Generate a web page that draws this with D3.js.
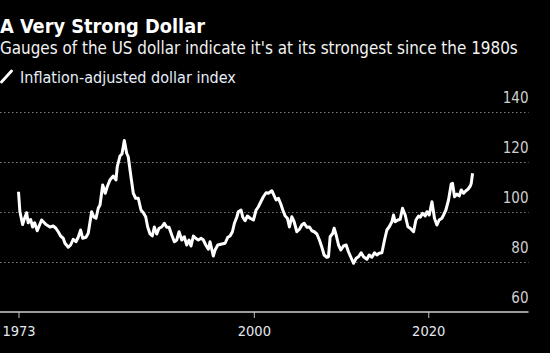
<!DOCTYPE html>
<html>
<head>
<meta charset="utf-8">
<script src="https://cdn.jsdelivr.net/npm/d3@7"></script>
<style>
	html, body {margin: 0; padding: 0; background: #000;}
	svg {display: block;}
</style>
</head>
<body>
<svg id="chart"></svg>
<script>
'use strict';

//Chart texts.
const title = 'A Very Strong Dollar';
const subtitle = "Gauges of the US dollar indicate it's at its strongest since the 1980s";
const legendLabel = 'Inflation-adjusted dollar index';

//Ticks.
const yTicks = [60, 80, 100, 120, 140];
const xTicks = [1973, 2000, 2020];

//Decimal years.
const years = [
	1973.00, 1973.16, 1973.47, 1973.70, 1973.93, 1974.11, 1974.39, 1974.62, 1974.85, 1975.15,
	1975.65, 1976.15, 1976.61, 1976.98, 1977.29, 1977.56, 1977.83, 1978.13, 1978.33, 1978.71,
	1978.98, 1979.28, 1979.59, 1979.85, 1980.13, 1980.36, 1980.74, 1981.00, 1981.39, 1981.66,
	1981.89, 1982.15, 1982.35, 1982.66, 1982.95, 1983.18, 1983.49, 1983.87, 1984.18, 1984.33,
	1984.64, 1984.87, 1985.14, 1985.41, 1985.59, 1985.90, 1986.17, 1986.44, 1986.74, 1987.05,
	1987.32, 1987.59, 1987.82, 1988.09, 1988.35, 1988.58, 1988.86, 1989.12, 1989.43, 1989.73,
	1990.00, 1990.27, 1990.58, 1990.88, 1991.15, 1991.42, 1991.73, 1992.02, 1992.30, 1992.56,
	1992.79, 1993.06, 1993.33, 1993.63, 1993.94, 1994.21, 1994.48, 1994.78, 1994.97, 1995.17,
	1995.35, 1995.55, 1995.86, 1996.32, 1996.70, 1997.01, 1997.27, 1997.54, 1997.77, 1998.04,
	1998.22, 1998.53, 1998.73, 1998.99, 1999.26, 1999.57, 1999.95, 2000.26, 2000.52, 2000.80,
	2001.09, 2001.40, 2001.67, 2002.06, 2002.24, 2002.55, 2002.82, 2003.09, 2003.32, 2003.59,
	2003.85, 2004.08, 2004.35, 2004.62, 2004.93, 2005.23, 2005.50, 2005.77, 2006.08, 2006.38,
	2006.65, 2006.92, 2007.23, 2007.52, 2007.80, 2008.06, 2008.37, 2008.56, 2008.75, 2009.06,
	2009.21, 2009.44, 2009.71, 2009.98, 2010.28, 2010.59, 2010.85, 2011.13, 2011.43, 2011.74,
	2012.00, 2012.31, 2012.58, 2012.97, 2013.23, 2013.54, 2013.84, 2014.11, 2014.38, 2014.69,
	2014.99, 2015.26, 2015.53, 2015.84, 2016.02, 2016.21, 2016.52, 2016.79, 2017.05, 2017.36,
	2017.67, 2017.94, 2018.32, 2018.59, 2018.89, 2019.09, 2019.35, 2019.66, 2019.85, 2020.12,
	2020.43, 2020.72, 2021.00, 2021.26, 2021.57, 2021.76, 2022.03, 2022.33, 2022.64, 2022.79,
	2023.02, 2023.30, 2023.56, 2023.79, 2024.06, 2024.33, 2024.56, 2024.83, 2024.94, 2025.09
];

//Inflation-adjusted dollar index at each of the years above.
const dollarIndex = [
	108.1, 100.1, 95.0, 97.5, 99.7, 95.7, 97.0, 94.0, 95.7, 92.5,
	96.8, 95.0, 94.0, 94.4, 93.5, 92.1, 90.4, 89.5, 87.5, 85.9,
	86.8, 89.1, 88.1, 89.9, 92.8, 89.5, 89.9, 91.5, 100.1, 97.9,
	97.5, 101.5, 102.8, 110.8, 107.5, 110.1, 112.8, 114.4, 112.8, 118.1,
	122.4, 123.2, 128.6, 123.5, 122.1, 114.1, 107.5, 105.5, 105.5, 100.8,
	99.7, 98.1, 94.0, 91.2, 90.4, 94.0, 91.2, 93.5, 94.0, 95.5,
	93.9, 93.9, 90.8, 88.1, 88.8, 92.1, 88.8, 90.1, 86.8, 88.8,
	86.4, 90.4, 89.5, 88.8, 89.5, 88.8, 86.8, 85.1, 88.1, 85.1,
	82.4, 84.8, 86.8, 87.2, 87.5, 89.9, 90.4, 92.1, 95.5, 97.9,
	100.1, 100.8, 97.9, 96.5, 98.4, 97.5, 96.8, 100.8, 102.1, 104.1,
	106.1, 107.7, 107.5, 108.5, 107.2, 104.8, 105.5, 103.2, 100.8, 98.4,
	97.5, 94.0, 98.1, 96.1, 92.1, 93.1, 94.8, 95.5, 93.9, 94.0,
	92.5, 92.1, 91.2, 88.8, 85.9, 82.8, 81.9, 82.1, 90.1, 91.5,
	93.5, 90.8, 86.8, 84.8, 86.4, 86.8, 84.1, 81.9, 79.5, 81.5,
	82.1, 83.7, 82.1, 81.1, 82.8, 81.9, 83.7, 82.8, 83.5, 83.7,
	88.8, 92.8, 94.1, 96.1, 98.8, 96.1, 96.8, 97.1, 101.5, 98.8,
	94.1, 93.5, 92.1, 96.8, 98.4, 97.9, 99.5, 98.4, 100.1, 98.8,
	104.1, 97.5, 94.8, 96.8, 97.5, 98.8, 100.8, 104.8, 111.2, 111.5,
	106.1, 107.2, 106.4, 108.8, 107.5, 108.5, 109.1, 110.4, 111.5, 115.5
];

const width = 550;
const height = 353;
const font = 'DejaVu Sans Condensed, DejaVu Sans, sans-serif';

const svg = d3.select('#chart')
	.attr('width', width)
	.attr('height', height)
	.style('font-family', font);

svg.append('rect')
	.attr('width', width)
	.attr('height', height)
	.attr('fill', '#000');

//Scales.
const xScale = d3.scaleLinear().domain([1973, 2020]).range([18.5, 428.2]);
const yScale = d3.scaleLinear().domain([60, 140]).range([312, 112]);
const plotRight = 528.5;

//Shrink or grow a text so it spans the width seen in the reference.
function fitWidth(sel, target) {
	const node = sel.node();
	const size = parseFloat(sel.attr('font-size'));
	const len = node.getComputedTextLength();
	sel.attr('font-size', (size * target / len).toFixed(2));
}

//Header.
svg.append('text')
	.attr('x', 0)
	.attr('y', 32.5)
	.attr('font-size', 18)
	.attr('font-weight', 'bold')
	.attr('fill', '#fff')
	.text(title)
	.call(fitWidth, 205);

svg.append('text')
	.attr('x', 0)
	.attr('y', 53.5)
	.attr('font-size', 16)
	.attr('fill', '#f2f2f2')
	.text(subtitle)
	.call(fitWidth, 518);

//Legend: slash swatch and label.
const legend = svg.append('g');
legend.append('line')
	.attr('x1', 1.5)
	.attr('y1', 82)
	.attr('x2', 11.5)
	.attr('y2', 71)
	.attr('stroke', '#fff')
	.attr('stroke-width', 2.8)
	.attr('stroke-linecap', 'round');
legend.append('text')
	.attr('x', 20)
	.attr('y', 82.5)
	.attr('font-size', 15)
	.attr('fill', '#e6eefa')
	.text(legendLabel)
	.call(fitWidth, 216);

//Dotted gridlines, not on the baseline.
svg.append('g')
	.selectAll('line')
	.data(yTicks.filter((d) => {return d > yScale.domain()[0];}))
	.enter()
	.append('line')
	.attr('x1', 0)
	.attr('x2', plotRight)
	.attr('y1', (d) => {return yScale(d) + 0.5;})
	.attr('y2', (d) => {return yScale(d) + 0.5;})
	.attr('stroke', '#808080')
	.attr('stroke-width', 1)
	.attr('stroke-dasharray', '1.5,2.5');

//y-axis labels sit above their gridline, right aligned.
svg.append('g')
	.selectAll('text')
	.data(yTicks)
	.enter()
	.append('text')
	.attr('x', plotRight)
	.attr('y', (d) => {return yScale(d) - 9;})
	.attr('text-anchor', 'end')
	.attr('font-size', 15)
	.attr('fill', '#cfcfcf')
	.text((d) => {return d;});

//Index line.
const line = d3.line()
	.x((d) => {return xScale(d[0]);})
	.y((d) => {return yScale(d[1]);});

svg.append('path')
	.datum(years.map((y, i) => {return [y, dollarIndex[i]];}))
	.attr('d', line)
	.attr('fill', 'none')
	.attr('stroke', '#fff')
	.attr('stroke-width', 3)
	.attr('stroke-linejoin', 'round');

//x-axis. Must be generated after scales are specified.
const xAxis = d3.axisBottom(xScale)
	.tickValues(xTicks)
	.tickFormat(d3.format('d'))
	.tickSize(6)
	.tickPadding(8);

const xAxisG = svg.append('g')
	.attr('transform', `translate(0, ${yScale(60)})`)
	.call(xAxis);
xAxisG.select('.domain').remove();
xAxisG.selectAll('.tick line')
	.attr('stroke', '#a0a0a0')
	.attr('stroke-width', 1.2);
xAxisG.selectAll('.tick text')
	.attr('font-family', font)
	.attr('font-size', 14.5)
	.attr('fill', '#e4e8f0');
//Baseline.
xAxisG.append('line')
	.attr('x1', 0)
	.attr('x2', plotRight)
	.attr('stroke', '#d0d0d0')
	.attr('stroke-width', 1.5);
</script>
</body>
</html>
